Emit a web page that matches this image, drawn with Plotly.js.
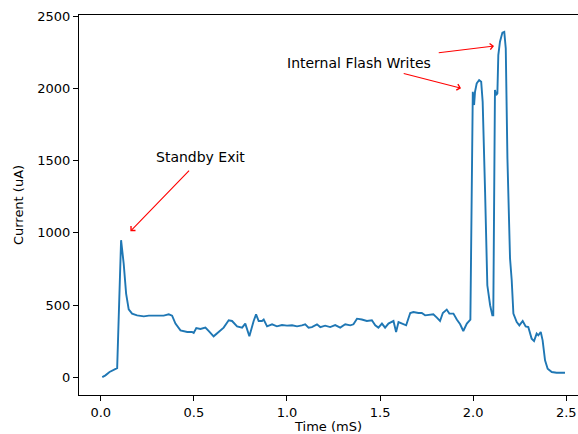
<!DOCTYPE html>
<html>
<head>
<meta charset="utf-8">
<script src="https://cdn.plot.ly/plotly-3.0.1.min.js"></script>
<style>
html, body { margin: 0; padding: 0; background: #fff; overflow: hidden; }
#chart { width: 578px; height: 434px; }
</style>
</head>
<body>
<div id="chart"></div>
<script>
// Time in ms
const timeMs = [0.008, 0.025, 0.047, 0.070, 0.088, 0.109, 0.123, 0.136, 0.150, 0.168,
  0.195, 0.231, 0.258, 0.303, 0.338, 0.365, 0.383, 0.401, 0.428, 0.464,
  0.490, 0.499, 0.513, 0.535, 0.562, 0.579, 0.606, 0.633, 0.660, 0.687,
  0.705, 0.732, 0.759, 0.776, 0.798, 0.821, 0.834, 0.848, 0.866, 0.875,
  0.893, 0.920, 0.946, 0.973, 1.000, 1.027, 1.054, 1.080, 1.098, 1.116,
  1.134, 1.161, 1.179, 1.205, 1.232, 1.259, 1.286, 1.313, 1.340, 1.357,
  1.376, 1.402, 1.429, 1.456, 1.474, 1.491, 1.510, 1.527, 1.545, 1.572,
  1.586, 1.599, 1.626, 1.640, 1.662, 1.679, 1.706, 1.724, 1.742, 1.769,
  1.786, 1.805, 1.822, 1.837, 1.858, 1.872, 1.894, 1.912, 1.930, 1.947,
  1.966, 1.985, 1.998, 2.005, 2.010, 2.019, 2.032, 2.043, 2.051, 2.064,
  2.076, 2.091, 2.103, 2.108, 2.117, 2.123, 2.130, 2.135, 2.144, 2.157,
  2.167, 2.175, 2.184, 2.198, 2.207, 2.216, 2.234, 2.248, 2.266, 2.282,
  2.296, 2.314, 2.327, 2.341, 2.350, 2.363, 2.373, 2.386, 2.400, 2.422,
  2.448, 2.493];
// Current in uA
const currentUA = [2, 14, 37, 53, 64, 949, 787, 580, 471, 441,
  429, 422, 427, 427, 427, 436, 427, 372, 325, 314,
  314, 307, 341, 335, 344, 321, 284, 314, 344, 395,
  390, 353, 344, 372, 284, 390, 436, 390, 390, 400,
  353, 367, 353, 362, 358, 360, 353, 360, 367, 344,
  348, 367, 348, 358, 348, 362, 344, 367, 360, 367,
  406, 400, 390, 395, 360, 344, 372, 344, 372, 390,
  314, 383, 367, 360, 445, 452, 445, 445, 429, 436,
  436, 413, 390, 445, 469, 441, 441, 400, 367, 321,
  372, 400, 1976, 1884, 1976, 2034, 2057, 2045, 1906, 1283,
  637, 499, 429, 429, 1988, 1953, 1965, 2230, 2322, 2385,
  2390, 2276, 1514, 822, 672, 441, 383, 360, 390, 353,
  348, 268, 251, 303, 291, 314, 256, 118, 60, 37,
  32, 32];

const xTicks = [0, 0.5, 1.0, 1.5, 2.0, 2.5];
const xTickText = ['0.0', '0.5', '1.0', '1.5', '2.0', '2.5'];
const yTicks = [0, 500, 1000, 1500, 2000, 2500];
const yTickText = ['0', '500', '1000', '1500', '2000', '2500'];

const font = {family: 'DejaVu Sans', size: 13, color: '#000'};
const noteFont = {family: 'DejaVu Sans', size: 14, color: '#000'};

const trace = {
  x: timeMs, y: currentUA, type: 'scatter', mode: 'lines',
  line: {color: '#1f77b4', width: 1.9}, hoverinfo: 'skip'
};

const arrowStyle = {
  text: '', showarrow: true, arrowhead: 4, arrowsize: 1.1, arrowwidth: 1.1,
  arrowcolor: '#ff0000', axref: 'x', ayref: 'y', xref: 'x', yref: 'y',
  standoff: 0, startstandoff: 0
};

const annotations = [
  Object.assign({}, arrowStyle, {x: 0.159, y: 1011, ax: 0.482, ay: 1440}),
  Object.assign({}, arrowStyle, {x: 1.935, y: 2001, ax: 1.619, ay: 2105}),
  Object.assign({}, arrowStyle, {x: 2.112, y: 2292, ax: 1.807, ay: 2244}),
  {text: 'Standby Exit', x: 0.285, y: 1525, xref: 'x', yref: 'y', showarrow: false,
   xanchor: 'left', yanchor: 'middle', font: noteFont},
  {text: 'Internal Flash Writes', x: 0.99, y: 2174, xref: 'x', yref: 'y', showarrow: false,
   xanchor: 'left', yanchor: 'middle', font: noteFont}
];

const layout = {
  width: 578, height: 434,
  margin: {l: 79, r: 0, t: 15, b: 39},
  paper_bgcolor: '#fff', plot_bgcolor: '#fff',
  showlegend: false,
  font: font,
  xaxis: {
    range: [-0.117, 2.563], tickvals: xTicks, ticktext: xTickText,
    showgrid: false, zeroline: false, showline: true, mirror: true,
    linecolor: '#000', linewidth: 1, ticks: 'outside', ticklen: 5, tickwidth: 1,
    tickcolor: '#000', tickfont: font,
    title: {text: 'Time (mS)', font: font, standoff: 9}
  },
  yaxis: {
    range: [-122, 2507], tickvals: yTicks, ticktext: yTickText,
    showgrid: false, zeroline: false, showline: true, mirror: false,
    linecolor: '#000', linewidth: 1, ticks: 'outside', ticklen: 5, tickwidth: 1,
    tickcolor: '#000', tickfont: font,
    title: {text: 'Current (uA)', font: font, standoff: 10}
  },
  annotations: annotations
};

Plotly.newPlot('chart', [trace], layout, {displayModeBar: false, staticPlot: true});
</script>
</body>
</html>
